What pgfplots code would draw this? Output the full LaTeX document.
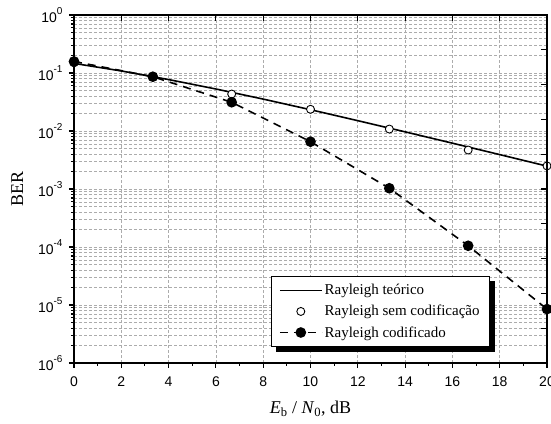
\documentclass[border=0pt]{standalone}
\usepackage{fontspec}
\setmainfont{Liberation Serif}
\newfontfamily\arial{Liberation Sans}
\usepackage{pgfplots}
\pgfplotsset{compat=1.18}
\usetikzlibrary{shadows}

% keep the legend's drop shadow off the legend sample lines
\makeatletter
\tikzset{no preaction/.code={\let\tikz@preactions\pgfutil@empty}}
\makeatother

% BER versus Eb/N0 for a Rayleigh channel
\pgfplotstableread{
x     ber
0     0.1464
2     0.1085
4     0.0771
6     0.0530
8     0.0355
10    0.0233
12    0.01507
14    0.00967
16    0.00617
18    0.00392
20    0.00248
}\teorico

\pgfplotstableread{
x      ber
0      0.150
3.333  0.0860
6.667  0.0434
10     0.0237
13.333 0.0108
16.667 0.0047
20     0.0025
}\semcod

\pgfplotstableread{
x      ber
0      0.158
3.333  0.0863
6.667  0.0313
10     0.00654
13.333 0.00103
16.667 0.000105
20     0.0000085
}\codificado

% power-of-ten label with a small raised exponent
\newcommand{\pten}[1]{10\raisebox{0.55em}{\fontsize{10}{10}\selectfont #1}}

\begin{document}
\begin{tikzpicture}
\useasboundingbox (-74pt,-60pt) rectangle (477pt,363pt);
\begin{semilogyaxis}[
  scale only axis, width=473pt, height=348pt,
  xmin=0, xmax=20, ymin=1e-6, ymax=1,
  xtick={0,2,...,20}, minor x tick num=1,
  ytick={1e-6,1e-5,1e-4,1e-3,1e-2,1e-1,1},
  yticklabels={\pten{-6},\pten{-5},\pten{-4},\pten{-3},\pten{-2},\pten{-1},\pten{0}},
  xtick pos=bottom, ytick pos=left, tick align=outside,
  major tick length=5pt, minor tick length=3pt,
  every tick/.style={black, line width=1.1pt},
  axis line style={line width=1.6pt},
  xmajorgrids, ymajorgrids, yminorgrids,
  major grid style={gray!65, dash pattern=on 3pt off 2pt, line width=0.7pt},
  minor grid style={gray!65, dash pattern=on 3pt off 2pt, line width=0.7pt},
  ticklabel style={font=\arial\fontsize{14}{14}\selectfont},
  xticklabel style={yshift=-5pt},
  yticklabel style={xshift=-3pt},
  /pgf/number format/assume math mode=true,
  xlabel={\textit{E}\textsubscript{b} / \textit{N}\textsubscript{0}, dB},
  ylabel={BER},
  label style={font=\fontsize{18}{18}\selectfont},
  xlabel style={yshift=-8pt},
  ylabel style={yshift=8pt},
  legend image code/.code={\draw[no preaction,mark repeat=2,mark phase=2,#1] plot coordinates {(0pt,0pt)(21pt,0pt)(42pt,0pt)};},
  legend style={at={(0.8795,0.046)}, anchor=south east,
    draw=black, line width=0.9pt, fill=white,
    drop shadow={shadow xshift=5pt, shadow yshift=-5pt, fill=black, opacity=1},
    font=\fontsize{15}{18}\selectfont, cells={anchor=west},
    row sep=5pt, inner xsep=8pt, inner ysep=6pt},
]
\addplot[black, line width=1.6pt] table[x=x, y=ber] {\teorico};
\addlegendentry{Rayleigh teórico}
\addplot[only marks, mark=*, mark size=4pt, mark options={fill=white, draw=black, line width=0.9pt}] table[x=x, y=ber] {\semcod};
\addlegendentry{Rayleigh sem codificação}
\addplot[black, line width=1.6pt, dash pattern=on 8pt off 6pt, mark=*, mark size=4.5pt, mark options={solid, fill=black}] table[x=x, y=ber] {\codificado};
\addlegendentry{Rayleigh codificado}
\end{semilogyaxis}
% mirrored ticks on the top and right sides
\begin{axis}[
  scale only axis, width=473pt, height=348pt,
  xmin=0, xmax=20, ymin=0, ymax=10,
  axis x line*=top, axis y line*=right,
  xtick={0,2,...,20}, ytick={0,1,...,10},
  xticklabels={}, yticklabels={},
  tick align=inside, major tick length=6pt,
  every tick/.style={black, line width=1.1pt},
  axis line style={line width=1.6pt},
]
\end{axis}
\end{tikzpicture}
\end{document}
